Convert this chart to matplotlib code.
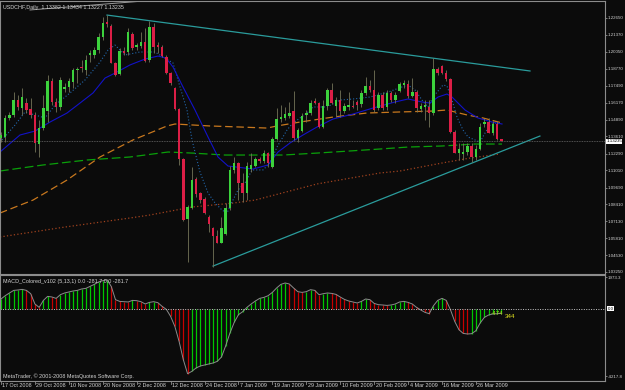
import numpy as np
import matplotlib.pyplot as plt
from matplotlib.transforms import blended_transform_factory as blend

plt.rcParams['font.family'] = ['Liberation Sans', 'DejaVu Sans']

# daily USDCHF candles, 17 Oct 2008 onwards
opens = [1.1345, 1.1358, 1.1498, 1.1524, 1.1638, 1.1575, 1.1613, 1.1567, 1.1524, 1.1302,
         1.1422, 1.1554, 1.1783, 1.1625, 1.1582, 1.1720, 1.1735, 1.1778, 1.1867, 1.1893,
         1.1867, 1.1982, 1.1982, 1.2020, 1.2117, 1.2237, 1.2203, 1.1923, 1.1837, 1.2015,
         1.2002, 1.2140, 1.2040, 1.2053, 1.2084, 1.1944, 1.2198, 1.2058, 1.2040, 1.1964,
         1.1842, 1.1732, 1.1570, 1.1185, 1.0727, 1.0811, 1.1035, 1.0925, 1.0880, 1.0747,
         1.0658, 1.0599, 1.0549, 1.0615, 1.0811, 1.1104, 1.1154, 1.1007, 1.0930, 1.1109,
         1.1134, 1.1188, 1.1175, 1.1231, 1.1129, 1.1338, 1.1491, 1.1503, 1.1519, 1.1557,
         1.1345, 1.1404, 1.1524, 1.1536, 1.1631, 1.1613, 1.1435, 1.1592, 1.1715, 1.1592,
         1.1638, 1.1557, 1.1587, 1.1592, 1.1625, 1.1608, 1.1694, 1.1745, 1.1715, 1.1575,
         1.1676, 1.1582, 1.1689, 1.1638, 1.1710, 1.1753, 1.1760, 1.1669, 1.1702, 1.1567,
         1.1587, 1.1587, 1.1536, 1.1872, 1.1900, 1.1847, 1.1796, 1.1396, 1.1236, 1.1226,
         1.1244, 1.1287, 1.1205, 1.1261, 1.1455, 1.1473, 1.1389, 1.1455, 1.13382]
highs = [1.1396, 1.1524, 1.1549, 1.1702, 1.1676, 1.1727, 1.1651, 1.1651, 1.1549, 1.1486,
         1.1676, 1.1829, 1.1804, 1.1651, 1.1811, 1.1765, 1.1804, 1.1880, 1.1893, 1.1944,
         1.1982, 1.2020, 1.2046, 1.2147, 1.2275, 1.2287, 1.2219, 1.1931, 1.2033, 1.2046,
         1.2186, 1.2160, 1.2071, 1.2160, 1.2186, 1.2242, 1.2224, 1.2084, 1.2058, 1.1982,
         1.1855, 1.1740, 1.1575, 1.1193, 1.0836, 1.1129, 1.1053, 1.0938, 1.0900, 1.0760,
         1.0671, 1.0645, 1.0747, 1.0849, 1.1134, 1.1205, 1.1167, 1.1078, 1.1167, 1.1231,
         1.1205, 1.1205, 1.1256, 1.1244, 1.1353, 1.1575, 1.1600, 1.1587, 1.1625, 1.1710,
         1.1422, 1.1536, 1.1562, 1.1638, 1.1651, 1.1625, 1.1638, 1.1727, 1.1765, 1.1664,
         1.1715, 1.1613, 1.1702, 1.1638, 1.1638, 1.1715, 1.1816, 1.1791, 1.1867, 1.1702,
         1.1702, 1.1715, 1.1710, 1.1702, 1.1778, 1.1791, 1.1791, 1.1804, 1.1715, 1.1613,
         1.1638, 1.1638, 1.1957, 1.1893, 1.1905, 1.1867, 1.1804, 1.1409, 1.1312, 1.1307,
         1.1312, 1.1307, 1.1294, 1.1465, 1.1498, 1.1498, 1.1480, 1.1480, 1.13434]
lows = [1.1320, 1.1320, 1.1486, 1.1511, 1.1562, 1.1524, 1.1536, 1.1498, 1.1244, 1.1205,
        1.1409, 1.1473, 1.1600, 1.1549, 1.1562, 1.1702, 1.1702, 1.1727, 1.1765, 1.1855,
        1.1829, 1.1931, 1.1957, 1.1995, 1.2097, 1.2198, 1.1918, 1.1822, 1.1829, 1.1982,
        1.1982, 1.2020, 1.2020, 1.2033, 1.1931, 1.1931, 1.1995, 1.1995, 1.1969, 1.1837,
        1.1753, 1.1562, 1.1142, 1.0717, 1.0403, 1.0803, 1.0900, 1.0849, 1.0768, 1.0633,
        1.0365, 1.0543, 1.0543, 1.0607, 1.0798, 1.1078, 1.0874, 1.0862, 1.0874, 1.1091,
        1.1129, 1.1154, 1.1154, 1.1129, 1.1116, 1.1333, 1.1473, 1.1486, 1.1498, 1.1333,
        1.1320, 1.1396, 1.1473, 1.1524, 1.1608, 1.1422, 1.1422, 1.1562, 1.1608, 1.1511,
        1.1511, 1.1536, 1.1562, 1.1575, 1.1562, 1.1587, 1.1676, 1.1702, 1.1549, 1.1562,
        1.1562, 1.1562, 1.1625, 1.1613, 1.1702, 1.1727, 1.1651, 1.1659, 1.1549, 1.1549,
        1.1486, 1.1435, 1.1524, 1.1829, 1.1837, 1.1786, 1.1389, 1.1231, 1.1180, 1.1180,
        1.1218, 1.1167, 1.1180, 1.1256, 1.1435, 1.1384, 1.1371, 1.1333, 1.13227]
closes = [1.1371, 1.1498, 1.1524, 1.1638, 1.1582, 1.1664, 1.1562, 1.1524, 1.1307, 1.1422,
          1.1575, 1.1783, 1.1625, 1.1582, 1.1788, 1.1735, 1.1781, 1.1867, 1.1875, 1.1880,
          1.1944, 1.1995, 1.2020, 1.2117, 1.2224, 1.2219, 1.1923, 1.1829, 1.2015, 1.2000,
          1.2160, 1.2033, 1.2058, 1.2084, 1.1939, 1.2198, 1.2046, 1.2046, 1.1974, 1.1842,
          1.1765, 1.1570, 1.1185, 1.0722, 1.0818, 1.1027, 1.0918, 1.0874, 1.0778, 1.0691,
          1.0599, 1.0549, 1.0658, 1.0811, 1.1104, 1.1154, 1.1007, 1.0930, 1.1137, 1.1142,
          1.1185, 1.1172, 1.1231, 1.1154, 1.1338, 1.1491, 1.1511, 1.1529, 1.1536, 1.1345,
          1.1409, 1.1519, 1.1541, 1.1613, 1.1618, 1.1435, 1.1592, 1.1715, 1.1618, 1.1638,
          1.1557, 1.1592, 1.1600, 1.1582, 1.1600, 1.1689, 1.1745, 1.1715, 1.1562, 1.1676,
          1.1575, 1.1694, 1.1638, 1.1676, 1.1760, 1.1765, 1.1669, 1.1702, 1.1575, 1.1592,
          1.1600, 1.1541, 1.1872, 1.1842, 1.1847, 1.1796, 1.1396, 1.1236, 1.1261, 1.1244,
          1.1287, 1.1205, 1.1261, 1.1435, 1.1473, 1.1389, 1.1455, 1.1338, 1.13235]

# moving averages, points (bar position, price)
ma_blue_x = [-0.24, 4.48, 8.02, 11.56, 15.57, 18.63, 21.70, 24.53, 26.89, 30.42, 33.96, 37.03,
             38.92, 40.57, 42.92, 45.75, 48.82, 51.18, 53.54, 59.43, 62.97, 65.33, 68.16,
             71.23, 74.53, 78.30, 83.02, 87.74, 92.92, 95.99, 99.29, 101.18, 103.07, 105.19,
             106.37, 109.43, 112.5, 115.8, 118.16]
ma_blue_y = [1.1241, 1.1371, 1.1401, 1.1470, 1.1539, 1.1615, 1.1692, 1.1806, 1.1844, 1.1906,
             1.1951, 1.1974, 1.1959, 1.1890, 1.1738, 1.1562, 1.1356, 1.1203, 1.1134, 1.1111,
             1.1142, 1.1241, 1.1310, 1.1371, 1.1432, 1.1493, 1.1531, 1.1577, 1.1623, 1.1646,
             1.1623, 1.1615, 1.1661, 1.1684, 1.1661, 1.1562, 1.1501, 1.1470, 1.1455]
ma_fast_x = [0.24, 3.30, 5.66, 8.02, 10.38, 12.74, 16.27, 19.81, 23.35, 25.24, 26.89, 29.25,
             32.78, 36.32, 38.21, 40.57, 42.22, 43.87, 45.05, 46.93, 48.82, 50.47, 52.12,
             53.30, 54.48, 55.90, 57.55, 59.20, 61.79, 63.44, 65.09, 67.45, 68.87, 72.17,
             73.58, 76.89, 79.95, 83.02, 87.03, 91.27, 94.58, 95.99, 97.64, 99.29, 100.71,
             101.89, 104.25, 105.19, 106.37, 107.55, 108.96, 110.14, 111.79, 112.97, 114.15,
             115.33, 116.51, 117.92]
ma_fast_y = [1.1333, 1.1447, 1.1547, 1.1524, 1.1501, 1.1600, 1.1692, 1.1791, 1.1928, 1.2020,
             1.2058, 1.1982, 1.2005, 1.2005, 1.1967, 1.1921, 1.1738, 1.1562, 1.1333, 1.1088,
             1.0928, 1.0852, 1.0798, 1.0775, 1.0859, 1.0951, 1.1004, 1.1104, 1.1104, 1.1157,
             1.1279, 1.1409, 1.1463, 1.1539, 1.1585, 1.1585, 1.1638, 1.1646, 1.1661, 1.1699,
             1.1738, 1.1753, 1.1715, 1.1638, 1.1585, 1.1661, 1.1753, 1.1745, 1.1638, 1.1508,
             1.1409, 1.1356, 1.1333, 1.1317, 1.1386, 1.1447, 1.1463, 1.1455]
ma_orange_x = [-0.24, 7.55, 15.57, 23.35, 31.13, 39.15, 41.04, 49.29, 56.37, 62.74, 65.09,
               70.52, 78.30, 86.32, 94.10, 101.89, 105.19, 109.91, 113.68, 118.16]
ma_orange_y = [1.0775, 1.0874, 1.1027, 1.1203, 1.1333, 1.1440, 1.1455, 1.1440, 1.1432, 1.1424,
               1.1440, 1.1470, 1.1508, 1.1539, 1.1547, 1.1554, 1.1562, 1.1524, 1.1501, 1.1463]
ma_green_x = [-0.24, 9.91, 20.28, 30.42, 39.39, 45.05, 52.83, 59.91, 66.51, 74.53, 82.31,
              89.39, 95.99, 104.01, 111.79, 118.16]
ma_green_y = [1.1096, 1.1142, 1.1180, 1.1203, 1.1241, 1.1233, 1.1218, 1.1218, 1.1218, 1.1233,
              1.1249, 1.1264, 1.1279, 1.1287, 1.1302, 1.1302]
ma_brown_x = [-0.24, 15.09, 30.42, 35.14, 45.05, 54.72, 59.91, 74.53, 89.39, 94.10, 104.01,
              110.61, 117.69]
ma_brown_y = [1.0592, 1.0668, 1.0737, 1.0760, 1.0821, 1.0851, 1.0874, 1.0997, 1.1081, 1.1096,
              1.1157, 1.1195, 1.1226]

# hand-drawn trend lines
trend_upper_x, trend_upper_y = [25.0, 124.76], [1.2287, 1.1860]
trend_lower_x, trend_lower_y = [50.0, 127.1], [1.0370, 1.1363]
trend_top_x, trend_top_y = [6.84, 33.49], [1.2326, 1.2394]

macd = [606, 813, 981, 1144, 1169, 1206, 1144, 938, 294, 81,
        519, 769, 731, 644, 875, 981, 1044, 1106, 1144, 1231,
        1269, 1394, 1519, 1669, 1750, 1813, 1394, 563, 456, 438,
        419, 519, 500, 438, 294, 394, 438, 375, 144, -44,
        -481, -1106, -2044, -3188, -4063, -3919, -3706, -3581, -3519, -3456,
        -3394, -3294, -3019, -2313, -1519, -856, -375, -188, 81, 294,
        481, 644, 706, 813, 1019, 1294, 1519, 1606, 1544, 1294,
        1063, 1019, 1063, 1188, 1144, 875, 938, 981, 956, 894,
        731, 581, 481, 419, 356, 456, 606, 563, 331, 250,
        231, 206, 231, 294, 419, 456, 394, 294, 81, -81,
        -231, -313, 188, 519, 644, 519, -63, -794, -1313, -1544,
        -1581, -1563, -1375, -894, -544, -394, -331, -313, -290]

price_ticks = [1.2265, 1.2137, 1.2005, 1.1877, 1.1749, 1.1617, 1.1489, 1.1361,
               1.1229, 1.1101, 1.0969, 1.0841, 1.0713, 1.0581, 1.0453, 1.0325]
macd_ticks = [1973.3, -4217.8]
date_pos = [0, 8, 16, 24, 32, 40, 48, 56, 64, 72, 80, 88, 96, 104, 112]
date_labels = ['17 Oct 2008', '29 Oct 2008', '10 Nov 2008', '20 Nov 2008', '2 Dec 2008',
               '12 Dec 2008', '24 Dec 2008', '7 Jan 2009', '19 Jan 2009', '29 Jan 2009',
               '10 Feb 2009', '20 Feb 2009', '4 Mar 2009', '16 Mar 2009', '26 Mar 2009']

BG = '#0b0b0b'
FRAME = '#8c8c8c'
TXT = '#d4d4d4'
FS = 3.9
FS_AX = 3.2

fig = plt.figure(figsize=(6.25, 3.9), dpi=100, facecolor=BG)
ax = fig.add_axes([0, 0.2974, 0.968, 0.7])
ax2 = fig.add_axes([0, 0.0231, 0.968, 0.2718])

for a in (ax, ax2):
    a.set_facecolor(BG)
    a.set_xlim(-0.236, 142.45)
    for s in a.spines.values():
        s.set_color(FRAME)
        s.set_linewidth(0.8)
    a.yaxis.tick_right()
    a.tick_params(axis='y', colors=FRAME, labelcolor=TXT, labelsize=FS_AX, length=1.2, width=0.6, pad=0.6)
    a.set_xticks([])

ax.set_ylim(1.03092, 1.23944)
ax2.set_ylim(-4519, 2106)

# moving averages
ax.plot(ma_brown_x, ma_brown_y, color='#a0421e', lw=0.9, ls=(0, (1, 1.8)))
ax.plot(ma_green_x, ma_green_y, color='#0aa00a', lw=0.9, ls=(0, (7, 3)))
ax.plot(ma_orange_x, ma_orange_y, color='#c8781e', lw=0.9, ls=(0, (6, 3)))
ax.plot(ma_fast_x, ma_fast_y, color='#2266aa', lw=0.8, ls=(0, (1, 1.8)))
ax.plot(ma_blue_x, ma_blue_y, color='#1212c8', lw=0.8)

# trend lines
for tx, ty in [(trend_upper_x, trend_upper_y), (trend_lower_x, trend_lower_y)]:
    ax.plot(tx, ty, color='#2a9c9c', lw=0.9)
ax.plot(trend_top_x, trend_top_y, color='#9a9a9a', lw=0.7)

# candles
idx = np.arange(len(closes))
o = np.array(opens)
c = np.array(closes)
up = c >= o
ax.vlines(idx, lows, highs, color='#747458', lw=0.6, zorder=3)
ax.bar(idx, np.maximum(np.abs(c - o), 0.0004), bottom=np.minimum(o, c), width=0.58,
       color=np.where(up, '#3cd23c', '#dc1e46'), linewidth=0, zorder=4)

# current price
ax.axhline(closes[-1], color='#6a6a6a', lw=0.6, ls=(0, (1, 1)), zorder=2)
ax.set_yticks(price_ticks)
ax.set_yticklabels(['%.5f' % p for p in price_ticks])
ax.text(1.002, closes[-1], '%.5f' % closes[-1], transform=blend(ax.transAxes, ax.transData),
        ha='left', va='center', fontsize=FS_AX, color='black',
        bbox=dict(facecolor='white', edgecolor='none', pad=0.3))
fig.text(0.005, 0.982, 'USDCHF,Daily  1.13382 1.13434 1.13227 1.13235', color=TXT,
         fontsize=FS, ha='left', va='center')

# MACD panel
m = np.array(macd)
rising = np.diff(m, prepend=m[0] - 1) > 0
ax2.vlines(idx, 0, m, colors=np.where(rising, '#00c800', '#c80000'), lw=0.9)
ax2.plot(idx, m, color='#8c8c8c', lw=0.7)
ax2.axhline(0, color='#c8c8c8', lw=0.7, ls=(0, (1, 1.5)))
ax2.set_yticks(macd_ticks)
ax2.set_yticklabels(['%.1f' % v for v in macd_ticks])
ax2.text(1.004, 0, '0.0', transform=blend(ax2.transAxes, ax2.transData), ha='left', va='center',
         fontsize=FS_AX, color='black', bbox=dict(facecolor='white', edgecolor='none', pad=0.3))
ax2.text(0.005, 0.94, 'MACD_Colored_v102 (5,13,1) 0.0 -281.7 0.0 -281.7', transform=ax2.transAxes,
         color=TXT, fontsize=FS, ha='left', va='center')
ax2.text(0.005, 0.045, 'MetaTrader, \u00a9 2001-2008 MetaQuotes Software Corp.', transform=ax2.transAxes,
         color=TXT, fontsize=FS, ha='left', va='center')
ax2.text(115.5, -300, '-474', color='#a8d21e', fontsize=FS + 0.6, ha='left', va='center')
ax2.text(118.8, -480, '344', color='#e6e61e', fontsize=FS + 0.6, ha='left', va='center')

# date axis
tr = blend(ax2.transData, ax2.transAxes)
for p, lab in zip(date_pos, date_labels):
    ax2.plot([p, p], [0, -0.025], transform=tr, color=FRAME, lw=0.6, clip_on=False)
    ax2.text(p + 0.35, -0.045, lab, transform=tr, ha='left', va='center', fontsize=FS, color=TXT)

fig.savefig('out.png', dpi=100, facecolor=BG)
